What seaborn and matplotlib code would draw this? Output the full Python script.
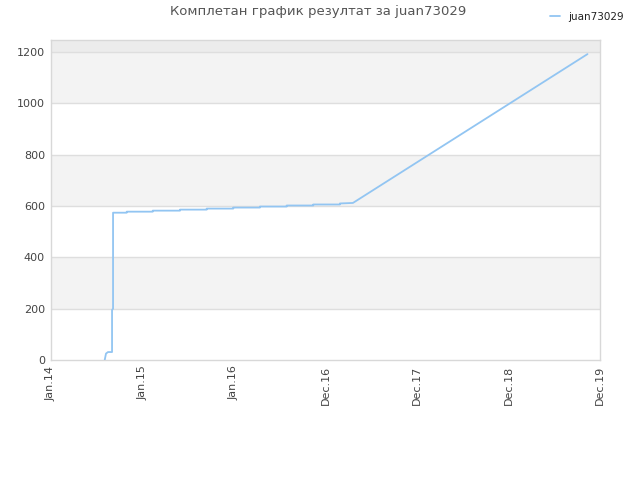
import matplotlib
matplotlib.use("Agg")
import matplotlib.pyplot as plt
import seaborn as sns
import pandas as pd

# x in years since Jan.14 (axis positions), y = score
x_vals = [0.591, 0.605, 0.627, 0.671, 0.671, 0.682, 0.682,
          0.831, 0.831, 1.115, 1.115, 1.413, 1.413, 1.704, 1.704,
          1.994, 1.994, 2.285, 2.285, 2.577, 2.577, 2.867, 2.867,
          3.158, 3.158, 3.300, 5.860]
y_vals = [0, 25, 31, 31, 195, 200, 574,
          574, 578, 578, 582, 582, 586, 586, 590,
          590, 594, 594, 598, 598, 602, 602, 606,
          606, 610, 612, 1192]
series_name = "juan73029"
tick_pos = [0, 1, 2, 3, 4, 5, 6]
tick_labels = ["Jan.14", "Jan.15", "Jan.16", "Dec.16", "Dec.17", "Dec.18", "Dec.19"]
y_ticks = [0, 200, 400, 600, 800, 1000, 1200]
title = "Комплетан график резултат за juan73029"

df = pd.DataFrame({"x": x_vals, "y": y_vals, "name": series_name})

sns.set_theme(style="white")
plt.rcParams['font.family'] = ['DejaVu Sans']

fig = plt.figure(figsize=(6.4, 4.8), dpi=100)
ax = fig.add_axes([0.079, 0.25, 0.859, 0.6667])

ymax = 1247
# bands
for lo, hi in [(200, 400), (600, 800), (1000, 1200)]:
    ax.axhspan(lo, hi, color="#f3f3f3", zorder=0, lw=0)
ax.axhspan(1200, ymax, color="#ececec", zorder=0, lw=0)
for yt in y_ticks[1:]:
    ax.axhline(yt, color="#dedede", lw=1.0, zorder=1)

sns.lineplot(data=df, x="x", y="y", hue="name", palette=["#92c5f2"],
             estimator=None, sort=False, lw=1.3, ax=ax, zorder=3)

ax.set_xlim(0, 6)
ax.set_ylim(0, ymax)
ax.set_xticks(tick_pos)
ax.set_xticklabels(tick_labels, rotation=90, fontsize=8, color="#444444")
ax.set_yticks(y_ticks)
ax.set_yticklabels([str(v) for v in y_ticks], fontsize=8, color="#444444")
ax.tick_params(axis="both", length=0, pad=4)
ax.set_xlabel("")
ax.set_ylabel("")
for s in ax.spines.values():
    s.set_color("#d8d8d8")
    s.set_linewidth(1.0)

fig.text(0.497, 0.975, title, ha="center", va="center", fontsize=9.5, color="#555555")

leg = ax.legend(loc="upper right", bbox_to_anchor=(0.99, 0.995), bbox_transform=fig.transFigure,
                frameon=False, fontsize=7.5, handlelength=1.0, handletextpad=0.8)
for t in leg.get_texts():
    t.set_color("#222222")

fig.savefig("out.png", dpi=100)
